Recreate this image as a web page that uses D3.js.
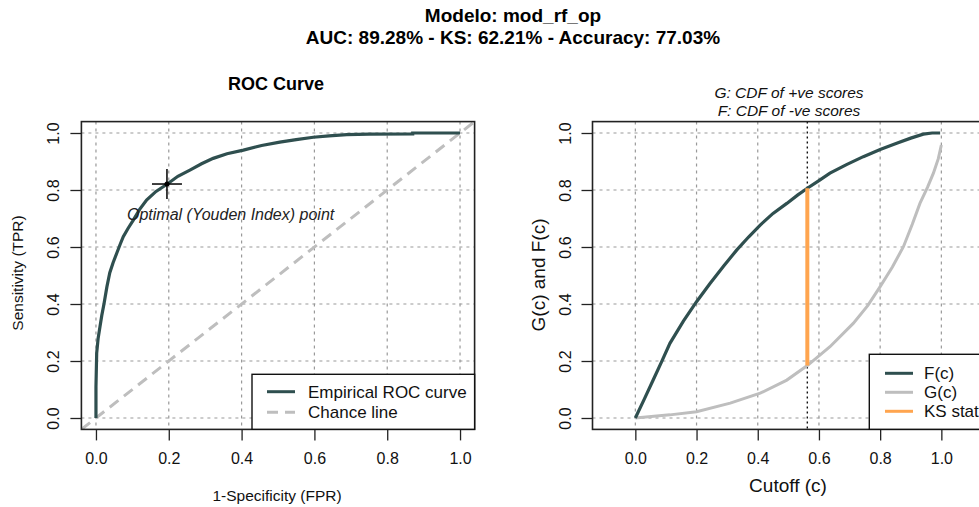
<!DOCTYPE html>
<html>
<head>
<meta charset="utf-8">
<script src="https://cdn.jsdelivr.net/npm/d3@7"></script>
<style>
  body { margin: 0; background: #fff; }
  svg { display: block; font-family: "Liberation Sans", Arial, sans-serif; }
</style>
</head>
<body>
<div id="chart"></div>
<script>
// ---- data ----
var titleLines = ["Modelo: mod_rf_op", "AUC: 89.28% - KS: 62.21% - Accuracy: 77.03%"];
var axisTicks = [0, 0.2, 0.4, 0.6, 0.8, 1.0];

// ROC curve (FPR, TPR)
var rocFpr = [0, 0, 0.002, 0.006, 0.011, 0.016, 0.022, 0.030, 0.038, 0.047, 0.057, 0.066, 0.075, 0.088,
              0.103, 0.120, 0.139, 0.165, 0.196, 0.225, 0.258, 0.290, 0.322, 0.360, 0.405, 0.455,
              0.505, 0.550, 0.597, 0.640, 0.689, 0.750, 0.870, 0.870, 1.0];
var rocTpr = [0, 0.11, 0.228, 0.28, 0.32, 0.36, 0.40, 0.46, 0.51, 0.545, 0.578, 0.608, 0.636, 0.665,
              0.695, 0.732, 0.765, 0.795, 0.821, 0.848, 0.870, 0.892, 0.911, 0.927, 0.940, 0.956,
              0.968, 0.977, 0.985, 0.990, 0.994, 0.996, 0.997, 1.0, 1.0];
var youdenPoint = [0.195, 0.821];
var chanceLine = [-0.04, 1.04];

// CDF of -ve scores (F) and +ve scores (G)
var cutF = [0, 0.030, 0.059, 0.086, 0.113, 0.157, 0.200, 0.244, 0.290, 0.331, 0.370, 0.408, 0.450,
            0.495, 0.530, 0.562, 0.600, 0.636, 0.690, 0.745, 0.800, 0.854, 0.900, 0.941, 0.970, 0.996];
var cdfF = [0, 0.068, 0.135, 0.198, 0.262, 0.340, 0.408, 0.472, 0.535, 0.589, 0.635, 0.677, 0.718,
            0.753, 0.782, 0.806, 0.833, 0.859, 0.889, 0.917, 0.942, 0.964, 0.982, 0.996, 1.0, 1.0];
var cutG = [0, 0.113, 0.200, 0.310, 0.408, 0.495, 0.562, 0.636, 0.712, 0.760, 0.800, 0.840, 0.876,
            0.905, 0.930, 0.955, 0.974, 0.990, 1.0];
var cdfG = [0, 0.011, 0.022, 0.052, 0.087, 0.133, 0.184, 0.250, 0.332, 0.395, 0.461, 0.530, 0.601,
            0.680, 0.753, 0.810, 0.859, 0.910, 0.958];
var ksCutoff = 0.562, ksF = 0.806, ksG = 0.184;

var leftLegend = ["Empirical ROC curve", "Chance line"];
var rightLegend = ["F(c)", "G(c)", "KS stat"];

var darkCol = '#2F4F4F', grayCol = '#BEBEBE', orangeCol = '#FFA54F', gridCol = '#999999';

// ---- canvas ----
var svg = d3.select("#chart").append("svg")
    .attr("width", 979)
    .attr("height", 507);

svg.selectAll("text.main")
    .data(titleLines)
    .enter().append("text")
    .attr("class", "main")
    .attr("x", 513)
    .attr("y", function (d, i) { return 22 + i * 22 })
    .attr("text-anchor", "middle")
    .style("font-weight", "bold")
    .style("font-size", "19px")
    .text(function (d) { return d });

// draw one panel frame: grid, ticks
function panel(x, y, opts) {
    var g = svg.append("g");
    var clipId = "clip" + opts.id;
    svg.append("clipPath").attr("id", clipId)
        .append("rect")
        .attr("x", x.range()[0]).attr("y", y.range()[1])
        .attr("width", x.range()[1] - x.range()[0])
        .attr("height", y.range()[0] - y.range()[1]);

    // grid
    g.selectAll("line.vgrid").data(axisTicks).enter().append("line")
        .attr("x1", function (d) { return x(d) }).attr("x2", function (d) { return x(d) })
        .attr("y1", y.range()[1]).attr("y2", y.range()[0])
        .attr("stroke", gridCol).attr("stroke-width", 1.2).attr("stroke-dasharray", "3,4");
    g.selectAll("line.hgrid").data(axisTicks).enter().append("line")
        .attr("x1", x.range()[0]).attr("x2", x.range()[1])
        .attr("y1", function (d) { return y(d) }).attr("y2", function (d) { return y(d) })
        .attr("stroke", gridCol).attr("stroke-width", 1.2).attr("stroke-dasharray", "3,4");

    // x axis
    var xa = svg.append("g")
        .attr("transform", "translate(0," + y.range()[0] + ")")
        .call(d3.axisBottom(x).tickValues(axisTicks).tickSize(11).tickPadding(12)
            .tickFormat(d3.format(".1f")));
    xa.select(".domain").remove();
    xa.selectAll("line").attr("stroke", "#222").attr("stroke-width", 1.3);
    xa.selectAll("text").style("font-size", "16px").attr("fill", "#111")
        .style("font-family", "Liberation Sans, Arial, sans-serif");

    // y axis, labels parallel to the axis
    var ya = svg.append("g")
        .attr("transform", "translate(" + x.range()[0] + ",0)")
        .call(d3.axisLeft(y).tickValues(axisTicks).tickSize(11).tickFormat(d3.format(".1f")));
    ya.select(".domain").remove();
    ya.selectAll("line").attr("stroke", "#222").attr("stroke-width", 1.3);
    ya.selectAll("text")
        .attr("x", null).attr("dy", null)
        .attr("text-anchor", "middle")
        .attr("transform", "translate(-22,0) rotate(-90)")
        .style("font-size", "16px").attr("fill", "#111")
        .style("font-family", "Liberation Sans, Arial, sans-serif");

    return { g: g, clip: "url(#" + clipId + ")" };
}

function box(x, y) {
    svg.append("rect")
        .attr("x", x.range()[0]).attr("y", y.range()[1])
        .attr("width", x.range()[1] - x.range()[0])
        .attr("height", y.range()[0] - y.range()[1])
        .attr("fill", "none").attr("stroke", "#222").attr("stroke-width", 1.6);
}

function legend(items, styles, bx, by, bw, bh, y0, step, lx, tx) {
    svg.append("rect")
        .attr("x", bx).attr("y", by).attr("width", bw).attr("height", bh)
        .attr("fill", "#fff").attr("stroke", "#111").attr("stroke-width", 1.4);
    items.forEach(function (t, i) {
        var yy = y0 + i * step;
        svg.append("line")
            .attr("x1", lx).attr("x2", lx + 28).attr("y1", yy).attr("y2", yy)
            .attr("stroke", styles[i].c).attr("stroke-width", 3)
            .attr("stroke-dasharray", styles[i].dash || null);
        svg.append("text")
            .attr("x", tx).attr("y", yy + 6)
            .style("font-size", "17px").attr("fill", "#111")
            .text(t);
    });
}

/* ---------- left: ROC curve ---------- */
var xL = d3.scaleLinear().domain([-0.04, 1.04]).range([81.4, 474.6]);
var yL = d3.scaleLinear().domain([-0.04, 1.04]).range([429.4, 121.6]);
var pL = panel(xL, yL, { id: "L" });

svg.append("text")
    .attr("x", 276).attr("y", 90).attr("text-anchor", "middle")
    .style("font-weight", "bold").style("font-size", "18px")
    .text("ROC Curve");
svg.append("text")
    .attr("x", 277).attr("y", 501).attr("text-anchor", "middle")
    .style("font-size", "15.5px").attr("fill", "#111")
    .text("1-Specificity (FPR)");
svg.append("text")
    .attr("transform", "translate(23,273) rotate(-90)").attr("text-anchor", "middle")
    .style("font-size", "15.5px").attr("fill", "#111")
    .text("Sensitivity (TPR)");

// chance line
svg.append("line")
    .attr("clip-path", pL.clip)
    .attr("x1", xL(chanceLine[0])).attr("y1", yL(chanceLine[0]))
    .attr("x2", xL(chanceLine[1])).attr("y2", yL(chanceLine[1]))
    .attr("stroke", grayCol).attr("stroke-width", 3).attr("stroke-dasharray", "11,7");

// ROC curve
var rocPts = rocFpr.map(function (d, i) { return [d, rocTpr[i]] });
svg.append("path")
    .datum(rocPts)
    .attr("fill", "none")
    .attr("stroke", darkCol)
    .attr("stroke-width", 3.2)
    .attr("d", d3.line()
        .x(function (d) { return xL(d[0]) })
        .y(function (d) { return yL(d[1]) })
    );

// Youden point
var yx = xL(youdenPoint[0]), yy = yL(youdenPoint[1]);
svg.append("line").attr("x1", yx - 15).attr("x2", yx + 15).attr("y1", yy).attr("y2", yy)
    .attr("stroke", "#000").attr("stroke-width", 1.5);
svg.append("line").attr("x1", yx).attr("x2", yx).attr("y1", yy - 15).attr("y2", yy + 15)
    .attr("stroke", "#000").attr("stroke-width", 1.5);
svg.append("circle").attr("cx", yx).attr("cy", yy).attr("r", 2.5).attr("fill", "#000");
svg.append("text")
    .attr("x", 127).attr("y", 220)
    .style("font-style", "italic").style("font-size", "16px").attr("fill", "#222")
    .text("Optimal (Youden Index) point");

box(xL, yL);
legend(leftLegend, [{ c: darkCol }, { c: grayCol, dash: "11,7" }],
    252, 374.3, 222.6, 55, 391.7, 20.6, 267, 308);

/* ---------- right: KS plot ---------- */
var xR = d3.scaleLinear().domain([-0.14, 1.14]).range([592.5, 984.2]);
var yR = d3.scaleLinear().domain([-0.04, 1.04]).range([429.4, 121.6]);
var pR = panel(xR, yR, { id: "R" });

svg.selectAll("text.sub")
    .data(["G: CDF of +ve scores", "F: CDF of -ve scores"])
    .enter().append("text")
    .attr("class", "sub")
    .attr("x", 789)
    .attr("y", function (d, i) { return 98 + i * 18 })
    .attr("text-anchor", "middle")
    .style("font-style", "italic").style("font-size", "15.5px").attr("fill", "#111")
    .text(function (d) { return d });
svg.append("text")
    .attr("x", 788).attr("y", 492).attr("text-anchor", "middle")
    .style("font-size", "19px").attr("fill", "#111")
    .text("Cutoff (c)");
svg.append("text")
    .attr("transform", "translate(545,275) rotate(-90)").attr("text-anchor", "middle")
    .style("font-size", "19px").attr("fill", "#111")
    .text("G(c) and F(c)");

// KS cutoff marker
svg.append("line")
    .attr("x1", xR(ksCutoff)).attr("x2", xR(ksCutoff))
    .attr("y1", yR.range()[1]).attr("y2", yR.range()[0])
    .attr("stroke", "#111").attr("stroke-width", 1.4).attr("stroke-dasharray", "2,3");

var cdfLine = d3.line()
    .x(function (d) { return xR(d[0]) })
    .y(function (d) { return yR(d[1]) });
svg.append("path")
    .datum(cutG.map(function (d, i) { return [d, cdfG[i]] }))
    .attr("fill", "none").attr("stroke", grayCol).attr("stroke-width", 3)
    .attr("d", cdfLine);
svg.append("path")
    .datum(cutF.map(function (d, i) { return [d, cdfF[i]] }))
    .attr("fill", "none").attr("stroke", darkCol).attr("stroke-width", 3.2)
    .attr("d", cdfLine);

svg.append("line")
    .attr("x1", xR(ksCutoff)).attr("x2", xR(ksCutoff))
    .attr("y1", yR(ksF)).attr("y2", yR(ksG))
    .attr("stroke", orangeCol).attr("stroke-width", 4);

box(xR, yR);
legend(rightLegend, [{ c: darkCol }, { c: grayCol }, { c: orangeCol }],
    869.3, 354.3, 140, 75, 373.3, 19, 885, 924);
</script>
</body>
</html>
